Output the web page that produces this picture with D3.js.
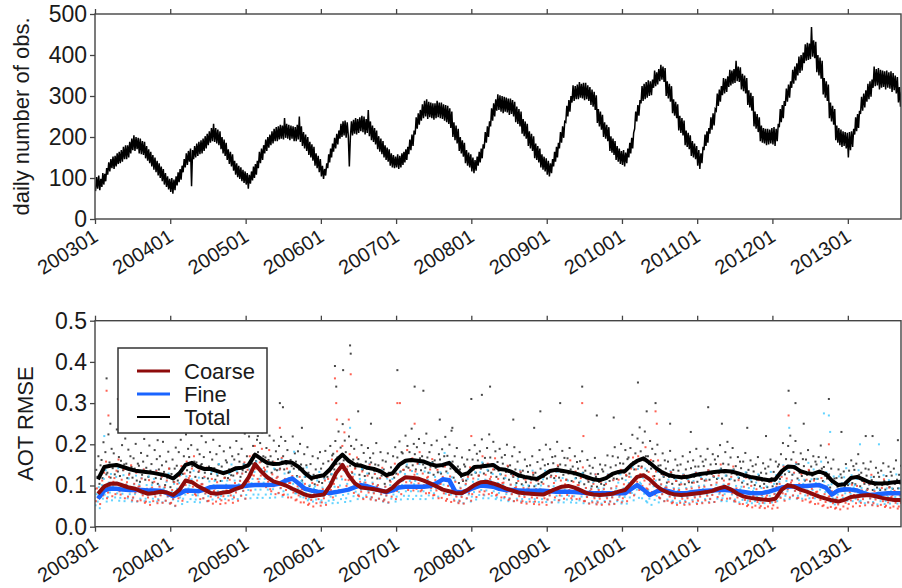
<!DOCTYPE html>
<html><head><meta charset="utf-8">
<script src="https://cdn.jsdelivr.net/npm/d3@7"></script>
<style>body{margin:0;background:#fff}svg{display:block}</style>
</head><body><svg id="c" width="902" height="588"></svg>
<script>
// ---------- DATA ----------
const yearTickLabels = ["200301","200401","200501","200601","200701","200801","200901","201001","201101","201201","201301"];
const obsTicks = [0,100,200,300,400,500];
const rmseTicks = [0,0.1,0.2,0.3,0.4,0.5];
const seriesNames = ["Coarse","Fine","Total"];

// daily number of obs: 6 readings per month (low/high swings of the noisy band), Jan 2003 - Sep 2013
const dailyObs = [
68,102,74,106,70,98, 78,112,84,110,92,124, 108,138,116,146,124,152, 122,154,128,160,134,164, 136,168,140,176,146,180, 146,180,150,188,160,196, 168,204,166,200,170,198, 160,196,158,190,156,188, 148,178,142,170,136,164, 128,156,120,150,114,142, 106,136,100,128,92,122, 84,112,78,104,72,98,
66,100,62,96,70,104, 82,114,90,122,96,130, 114,146,126,160,132,166, 140,172,80,168,146,178, 150,184,154,188,158,192, 160,196,166,202,172,208, 180,214,186,222,190,232, 188,222,184,218,180,214, 170,200,160,194,154,186, 144,170,134,164,128,158, 118,142,108,136,102,130, 98,126,92,120,88,116,
84,112,74,108,86,116, 94,128,100,134,108,142, 124,164,136,172,144,180, 160,194,166,200,174,206, 180,214,184,220,190,224, 190,226,194,230,196,228, 194,246,198,232,196,230, 192,228,196,226,190,224, 190,230,194,250,188,226, 178,212,172,206,166,200, 156,188,150,182,142,176, 130,160,124,154,114,146,
104,130,98,122,106,136, 124,158,138,172,150,184, 164,198,172,208,182,216, 196,232,200,238,204,240, 198,236,204,128,200,238, 204,242,208,246,206,244, 210,248,214,252,212,250, 206,244,210,266,202,238, 192,228,188,222,182,216, 170,202,164,196,158,190, 150,180,144,174,140,170, 130,160,126,156,124,152,
126,158,122,154,126,160, 132,164,138,170,144,176, 158,194,168,206,178,216, 206,248,220,258,230,266, 240,280,246,288,250,292, 244,286,248,284,246,282, 242,282,246,288,248,284, 246,284,244,280,240,278, 236,276,232,270,222,262, 200,236,192,228,184,220, 166,200,160,192,152,186, 136,168,130,162,126,158,
116,150,112,144,118,152, 130,164,138,172,148,182, 172,212,186,226,200,238, 226,270,240,282,250,292, 264,304,266,302,262,300, 258,298,262,296,260,294, 254,294,256,290,250,286, 236,274,232,268,226,262, 208,244,202,238,196,232, 178,214,172,208,166,202, 148,184,144,178,138,172, 126,158,120,152,116,148,
108,142,104,136,112,146, 128,164,140,176,150,186, 172,212,186,226,198,238, 236,276,250,290,262,300, 284,326,288,324,292,328, 292,334,296,330,294,332, 290,332,292,326,288,322, 278,316,274,310,266,302, 234,268,226,262,218,254, 200,236,196,230,190,224, 166,202,162,196,156,190, 144,178,140,172,134,166,
132,168,128,162,136,172, 150,186,160,198,172,210, 220,262,238,278,252,290, 282,324,288,330,292,334, 296,338,300,336,302,340, 320,362,324,358,328,366, 336,376,340,372,334,368, 300,336,294,330,286,324, 258,292,252,286,246,280, 216,252,210,246,204,240, 180,216,176,210,170,204, 154,190,150,184,146,178,
130,168,122,160,136,176, 168,206,178,214,186,222, 208,248,218,258,228,268, 264,306,276,316,286,324, 302,344,306,342,310,348, 322,364,326,362,330,366, 332,386,336,372,334,370, 316,354,312,350,306,344, 278,314,272,308,264,300, 226,262,220,256,212,248, 190,228,186,222,184,220, 180,220,182,218,184,222,
182,224,178,220,190,232, 224,268,236,278,246,288, 276,318,286,328,296,336, 320,364,330,372,338,380, 350,396,356,400,362,406, 380,426,386,430,388,428, 390,468,396,436,392,432, 358,400,350,394,342,386, 304,344,296,336,288,328, 246,284,238,276,230,268, 192,228,186,222,180,218, 176,214,178,212,172,210,
150,212,168,214,176,220, 206,248,214,256,222,264, 256,298,264,306,272,314, 286,330,292,336,298,340, 320,372,324,366,326,368, 316,364,320,362,322,360, 316,362,320,358,318,360, 310,356,314,350,306,346, 284,322,274,310,268,300
];

// smoothed AOT RMSE (x1000), one per month
const coarseSmooth = [
80,98,104,105,100,95,92,85,80,82,85,83,
77,90,112,108,98,90,82,80,83,85,92,97,
120,152,135,120,110,105,100,92,85,78,74,76,
78,100,130,150,125,105,95,93,91,88,85,95,
110,120,119,117,112,105,98,90,86,82,81,90,
101,108,109,105,100,93,88,83,81,80,79,78,
85,92,97,99,95,88,81,78,77,78,80,85,
89,105,121,125,115,100,89,82,78,77,78,80,
82,84,87,93,97,90,80,73,70,68,66,65,
68,90,101,97,90,85,79,73,68,64,61,65,
72,74,76,77,74,70,67,65,65];
const fineSmooth = [
68,88,93,92,90,89,89,89,88,88,87,82,
74,80,88,87,86,90,96,97,97,97,97,98,
100,101,101,101,102,105,112,117,105,92,88,85,
83,82,84,87,90,96,101,98,93,88,84,88,
95,97,97,97,97,99,105,115,113,85,83,88,
95,100,99,97,92,89,89,88,87,87,87,87,
86,85,85,85,84,83,82,81,81,81,81,81,
81,92,101,90,77,85,89,86,82,81,82,84,
86,87,88,89,89,88,86,84,82,81,82,85,
90,95,97,98,98,99,100,101,95,78,88,91,
90,88,82,77,78,80,81,81,81];
const totalSmooth = [
115,145,148,150,145,140,136,134,132,130,127,124,
117,130,150,155,145,140,140,135,130,135,142,143,
150,175,165,155,152,153,157,155,145,130,118,122,
125,140,160,175,160,150,148,143,140,135,125,130,
150,160,162,160,158,152,148,150,155,140,125,130,
145,146,148,150,140,138,133,125,121,118,116,125,
135,138,136,133,130,125,120,115,113,118,128,133,
135,150,160,166,155,142,132,125,122,120,121,125,
128,130,132,134,135,134,130,125,121,118,115,113,
115,135,146,145,135,130,128,134,128,112,101,103,
118,121,115,108,105,105,106,108,109];

// daily RMSE scatter (x1000), 6 readings per month
const totalDots = [
92,138,121,171,104,149, 162,118,205,139,181,127, 131,224,156,119,189,142, 178,127,151,236,134,169, 123,160,198,137,151,214, 153,118,187,129,171,145, 119,166,141,201,112,153, 148,109,179,126,158,213, 114,143,172,121,197,136, 152,107,131,186,118,164, 104,139,171,116,149,206, 133,101,158,119,182,141,
96,128,163,109,141,192, 148,112,181,126,211,139, 128,171,146,224,137,189, 169,132,198,147,241,158, 121,156,187,133,176,149, 152,118,169,131,205,143, 117,146,181,128,163,211, 142,114,176,124,151,196, 111,146,128,183,119,161, 156,118,139,192,125,171, 124,163,139,208,131,176, 158,121,189,137,152,226,
133,171,146,219,127,162, 153,196,168,247,159,211, 181,142,203,158,229,171, 134,168,191,146,162,221, 171,131,158,209,139,183, 137,164,196,141,218,158, 171,139,208,152,186,131, 133,162,147,219,141,178, 158,123,183,139,201,151, 112,141,176,121,149,193, 131,99,152,113,171,126, 103,139,118,166,109,181,
141,106,153,119,184,132, 121,159,138,196,127,173, 177,139,208,152,168,231, 153,192,171,249,161,209, 181,139,162,219,148,196, 131,163,189,142,211,154, 164,126,151,198,138,179, 123,158,141,191,129,167, 156,119,178,136,151,203, 117,149,132,181,124,161, 139,104,158,121,178,131, 112,144,127,171,119,193,
129,168,146,207,134,181, 178,138,159,221,146,196, 143,181,159,238,149,201, 176,139,193,154,213,166, 137,171,151,203,143,226, 168,131,181,146,198,157, 126,161,143,209,132,176, 163,129,188,146,171,218, 134,172,151,199,141,233, 158,119,171,134,191,146, 106,139,121,168,111,151, 146,112,163,126,186,138,
126,163,139,198,131,177, 161,124,183,141,212,153, 129,167,146,191,136,224, 168,131,152,206,139,183, 121,157,136,189,127,168, 153,117,174,133,199,146, 114,149,128,171,121,193, 139,106,158,121,181,131, 103,136,117,163,108,147, 133,99,149,114,171,126, 98,131,112,157,104,186, 141,108,163,121,149,199,
117,152,131,188,124,169, 154,118,171,134,206,146, 119,151,133,184,126,167, 149,114,166,129,191,139, 111,146,127,171,118,157, 141,107,159,122,183,131, 103,136,117,162,109,148, 129,98,143,112,167,121, 97,128,109,151,104,139, 134,101,149,116,173,124, 111,144,124,171,117,193, 149,116,168,129,154,201,
117,153,131,186,124,164, 168,129,191,146,223,157, 139,178,156,214,147,241, 183,146,204,161,231,171, 136,171,152,208,141,189, 159,123,176,138,199,148, 114,149,128,178,121,161, 141,107,158,121,184,131, 104,138,118,163,111,149, 136,102,151,117,171,126, 103,139,117,158,108,181, 142,107,161,121,146,189,
109,146,124,171,116,158, 147,112,163,126,189,136, 114,151,128,176,121,163, 152,116,171,131,198,141, 117,153,132,181,124,206, 151,115,168,129,191,139, 112,147,126,169,118,158, 142,107,158,121,179,131, 103,138,117,161,109,147, 134,101,151,114,169,124, 98,131,112,154,104,141, 129,96,146,109,163,118,
98,133,111,158,104,146, 151,116,176,131,203,141, 127,164,142,196,133,221, 163,126,181,141,208,152, 117,152,131,178,123,164, 147,112,163,126,186,136, 110,146,124,171,116,158, 151,116,169,131,197,141, 111,145,124,168,117,156, 127,95,141,108,163,117, 86,118,97,139,91,127, 119,87,134,99,152,108,
101,136,114,161,106,147, 138,103,153,117,176,126, 98,131,111,154,104,141, 124,92,139,104,158,113, 89,121,101,143,95,131, 121,89,136,101,154,111, 90,123,102,146,96,133, 124,92,141,104,161,114, 93,126,105,148,98,136
];
const coarseDots = [
62,93,71,118,55,84, 112,76,131,88,158,69, 83,121,96,147,74,109, 118,79,136,94,163,86, 78,114,91,139,69,102, 108,73,126,86,149,64, 71,104,83,131,62,97, 98,64,117,76,139,58, 61,92,71,113,53,84, 95,62,109,73,136,57, 64,97,76,121,58,88, 96,63,112,74,141,56,
58,89,67,108,51,81, 104,69,123,81,147,63, 89,129,101,158,82,118, 123,85,141,97,171,79, 76,112,88,136,67,103, 103,69,121,81,143,62, 63,96,73,116,56,87, 93,61,108,71,132,55, 64,96,74,118,57,88, 98,64,114,76,137,58, 71,106,83,129,63,97, 111,75,129,87,156,68,
96,138,109,171,88,126, 173,124,196,141,231,116, 109,156,124,189,101,143, 138,96,159,109,186,91, 86,127,98,156,79,118, 121,82,139,94,167,77, 78,116,89,141,71,106, 106,71,123,83,149,64, 66,98,76,121,59,91, 91,59,104,69,128,53, 56,86,65,106,49,79, 88,57,101,67,124,51,
59,91,69,112,53,84, 116,78,134,89,163,71, 104,151,118,183,96,138, 171,122,196,138,229,114, 99,146,113,176,92,133, 121,82,141,94,168,76, 74,109,85,134,67,101, 107,72,124,83,151,66, 71,104,81,128,64,97, 101,68,118,79,143,62, 66,97,76,121,59,91, 109,73,127,86,153,67,
87,127,99,154,79,116, 138,95,157,108,186,89, 94,137,107,166,88,126, 134,92,153,105,181,86, 89,129,101,157,81,119, 121,82,139,94,164,76, 77,113,88,138,69,104, 104,70,121,81,146,63, 67,99,77,122,60,92, 95,63,109,73,134,57, 62,93,72,114,56,86, 104,69,121,81,144,63,
79,117,91,142,72,107, 124,85,143,97,171,78, 86,126,98,153,79,116, 121,82,139,94,166,76, 78,116,89,141,71,106, 107,72,124,84,148,65, 68,102,79,124,62,94, 96,64,111,74,134,58, 62,94,72,114,56,86, 93,61,107,71,131,55, 61,91,70,112,54,84, 90,59,104,69,128,53,
66,98,76,121,59,91, 106,71,123,82,149,64, 76,112,87,137,68,103, 114,77,132,89,161,69, 74,109,85,134,67,101, 101,68,118,79,144,62, 62,94,72,114,56,86, 91,59,104,69,127,54, 59,89,68,109,53,82, 91,60,104,69,126,54, 61,93,71,113,55,85, 98,65,114,76,138,59,
69,103,79,126,62,95, 121,82,141,94,168,76, 97,139,109,171,89,128, 143,99,163,112,193,93, 91,133,103,162,84,122, 116,78,134,89,161,71, 69,103,79,126,62,95, 95,63,109,73,133,57, 59,91,69,111,53,83, 89,58,103,68,125,53, 60,91,69,111,54,83, 93,61,107,71,131,55,
63,95,73,116,57,87, 97,64,112,75,137,58, 67,101,77,123,60,93, 107,72,124,83,151,65, 76,112,87,137,68,103, 104,69,121,81,146,63, 61,93,71,113,55,85, 85,55,97,65,119,50, 53,82,62,99,47,75, 79,51,91,60,113,46, 50,77,58,94,45,71, 76,49,87,58,108,44,
52,79,60,97,46,73, 104,70,121,81,146,63, 79,117,91,143,71,107, 112,76,131,87,156,69, 70,104,81,128,63,96, 99,66,114,76,138,59, 61,92,70,112,55,84, 85,56,98,65,118,50, 52,79,60,97,46,73, 74,48,86,57,106,44, 46,71,54,87,42,66, 76,49,87,58,108,44,
55,84,64,102,49,77, 86,57,99,66,121,50, 58,88,67,108,52,81, 89,59,103,69,126,52, 57,86,66,105,50,79, 81,53,94,62,115,48, 51,78,59,95,46,72, 76,49,87,58,108,44, 49,76,58,93,44,70
];
const fineDots = [
52,79,61,96,45,72, 101,68,116,78,137,61, 72,107,83,128,64,98, 105,71,121,81,142,63, 70,104,80,125,62,95, 102,69,117,79,139,61, 69,103,79,124,61,94, 102,68,118,79,138,62, 68,101,78,122,60,93, 101,68,116,78,137,61, 67,100,77,121,59,92, 94,63,109,73,129,57,
57,86,66,104,50,79, 92,62,106,71,126,55, 68,101,78,122,60,93, 100,67,115,77,136,60, 66,99,76,119,59,91, 104,69,119,80,141,62, 74,110,85,133,66,101, 111,75,128,86,152,67, 75,111,86,134,67,102, 112,75,128,86,151,67, 75,112,86,135,67,103, 112,76,129,87,153,68,
77,115,89,139,69,106, 116,78,133,90,158,70, 78,116,90,140,70,107, 116,78,134,90,157,70, 79,117,91,141,71,108, 121,81,138,93,164,73, 86,129,99,155,78,118, 134,90,154,104,182,81, 81,121,93,146,73,111, 106,71,121,82,144,64, 68,101,78,122,61,93, 98,66,112,75,133,59,
64,95,74,115,58,88, 94,63,108,73,128,57, 65,97,75,117,58,89, 100,67,115,77,136,60, 69,104,80,125,62,95, 110,74,127,85,150,67, 78,116,90,140,70,107, 113,76,129,87,153,68, 72,107,83,129,64,98, 101,68,116,78,137,61, 65,97,75,117,58,89, 101,68,116,78,137,61,
73,109,84,132,66,101, 112,75,128,86,151,67, 75,111,86,135,67,103, 111,75,128,86,152,67, 75,112,86,134,67,102, 114,76,131,88,154,69, 81,121,93,146,73,111, 132,89,152,102,179,80, 87,130,100,157,78,120, 98,66,112,75,133,59, 64,95,74,115,57,88, 101,68,116,78,137,61,
73,109,84,132,66,101, 115,77,132,89,156,69, 76,114,88,138,69,105, 112,75,128,86,151,67, 71,106,82,128,64,98, 102,69,118,79,139,62, 69,102,79,124,62,94, 101,68,116,78,137,61, 67,100,77,121,60,92, 100,67,115,77,136,60, 67,100,77,121,60,92, 100,67,115,77,136,60,
66,99,76,120,59,91, 98,65,112,75,133,59, 65,98,75,118,59,90, 98,66,112,75,133,59, 65,97,74,117,58,89, 95,64,110,73,130,57, 63,94,73,114,57,87, 93,62,107,72,127,56, 62,93,72,113,56,86, 93,62,107,72,127,56, 62,93,72,113,56,86, 93,62,107,72,127,56,
62,93,72,113,56,86, 106,71,121,82,144,64, 78,116,90,140,70,107, 104,69,119,80,141,62, 59,89,68,107,53,82, 98,65,112,75,133,59, 69,102,79,124,62,94, 99,66,114,76,135,60, 63,94,73,114,57,87, 93,62,107,72,127,56, 63,94,73,114,57,87, 97,65,111,74,132,58,
66,99,76,120,59,91, 100,67,115,77,136,60, 68,101,78,122,60,93, 102,68,118,79,139,62, 69,102,79,124,62,94, 101,68,116,78,137,61, 66,99,76,120,59,91, 97,65,111,74,132,58, 63,94,73,114,57,87, 93,62,107,72,127,56, 63,94,73,114,57,87, 98,65,112,75,133,59,
69,104,80,125,62,95, 109,73,125,84,149,66, 75,111,86,135,67,103, 113,75,129,87,153,68, 75,113,87,136,68,104, 114,76,131,88,155,69, 77,115,89,139,69,106, 116,78,134,90,158,70, 73,109,84,132,66,101, 90,60,103,69,122,54, 68,101,78,122,61,93, 105,70,120,81,142,63,
69,104,80,125,62,95, 101,68,116,78,137,61, 63,94,73,114,57,87, 89,59,102,68,120,53, 60,90,69,108,54,83, 92,62,106,71,125,55, 62,93,72,113,56,86, 93,62,107,72,127,56, 62,93,72,113,56,86
];
// isolated high RMSE days: [month index since Jan 2003 (fractional), RMSE]
const totalOutliers = [[1.9,0.36],[3.7,0.31],[2.5,0.25],[6,0.23],[10,0.21],[14,0.24],[17,0.22],[22,0.25],[26,0.22],[29.5,0.30],[30,0.29],[33,0.24],[38.3,0.39],[38.5,0.34],[39.6,0.38],[40.7,0.44],[40.8,0.42],[42,0.28],[44,0.25],[48.2,0.38],[51,0.34],[52.4,0.33],[55,0.26],[57,0.24],[60,0.31],[61.7,0.32],[63,0.34],[66.7,0.26],[70,0.24],[71,0.28],[74.2,0.30],[77.7,0.34],[80,0.27],[82.7,0.265],[86.6,0.35],[88,0.28],[89.4,0.30],[91.7,0.25],[95,0.23],[97.8,0.29],[100,0.25],[104,0.24],[107,0.22],[110.6,0.33],[111.7,0.30],[113,0.25],[117,0.31],[119,0.23],[122.9,0.22],[124,0.22],[128,0.21]];
const coarseOutliers = [[1.9,0.33],[2.2,0.27],[29.5,0.24],[38.3,0.36],[38.5,0.30],[38.6,0.26],[40.8,0.37],[40.5,0.26],[48.2,0.30],[48.6,0.30],[51,0.25],[60,0.22],[77.7,0.30],[77.9,0.22],[89.4,0.28],[89.6,0.25],[110.6,0.27],[117,0.20]];
const fineOutliers = [[1.5,0.22],[40.7,0.24],[110.7,0.24],[116.2,0.275],[117,0.27],[117.2,0.23],[122,0.20],[125,0.20]];

// ---------- CHECKS ----------
[["dailyObs",dailyObs,774],["totalDots",totalDots,774],["coarseDots",coarseDots,774],["fineDots",fineDots,774],["coarseSmooth",coarseSmooth,129],["fineSmooth",fineSmooth,129],["totalSmooth",totalSmooth,129]].forEach(([n,a,l])=>{ if(a.length!==l) throw new Error(n+" length "+a.length); });

// ---------- DRAW ----------
const svg = d3.select("#c");
const FONT = "'Liberation Sans', Arial, Helvetica, sans-serif";
const DAY = 864e5;
const L = 95, R = 901;
const x = d3.scaleUtc().domain([Date.UTC(2003,0,1), Date.UTC(2013,8,16)]).range([L, R]);
const yTop = d3.scaleLinear().domain([0,500]).range([219,14]);
const yBot = d3.scaleLinear().domain([0,0.5]).range([526.7,320.7]);
const ms = m => Date.UTC(2003, m, 1);
const mdays = m => (Date.UTC(2003, m+1, 1) - Date.UTC(2003, m, 1)) / DAY;
const slot = (i, n, shift) => { const m = Math.floor(i/n), k = i%n; return ms(m) + ((k+0.5)*mdays(m)/n + shift) * DAY; };
const fracMonth = f => { const m = Math.floor(f); return ms(m) + (f-m)*mdays(m)*DAY; };
const yearDates = yearTickLabels.map((s,i)=>Date.UTC(2003+i,0,1));

const defs = svg.append("defs");
defs.append("clipPath").attr("id","clipTop").append("rect").attr("x",L).attr("y",14).attr("width",R-L).attr("height",205);
defs.append("clipPath").attr("id","clipBot").append("rect").attr("x",L).attr("y",320.7).attr("width",R-L).attr("height",206);

function frame(y, yTicks, fmt, yTitle, titleX) {
  const [y0, y1] = y.range();
  const g = svg.append("g");
  const ax = g.append("g").attr("transform",`translate(0,${y0})`)
    .call(d3.axisBottom(x).tickValues(yearDates).tickSize(5).tickFormat((d,i)=>yearTickLabels[i]));
  ax.selectAll("text").attr("x",0).attr("y",0).attr("dy",0)
    .attr("text-anchor","end").attr("transform","translate(4,21) rotate(-32)")
    .style("font-size","20px");
  g.append("g").attr("transform",`translate(0,${y1})`)
    .call(d3.axisTop(x).tickValues(yearDates).tickSize(5).tickFormat(""));
  g.append("g").attr("transform",`translate(${L},0)`)
    .call(d3.axisLeft(y).tickValues(yTicks).tickSize(5).tickPadding(3).tickFormat(fmt))
    .selectAll("text").style("font-size","23px");
  g.selectAll(".domain").remove();
  g.selectAll(".tick line").attr("stroke","#444").attr("stroke-width",1.3);
  g.selectAll("text").attr("fill","#1a1a1a").style("font-family",FONT);
  g.append("rect").attr("x",L).attr("y",y1).attr("width",R-L).attr("height",y0-y1)
    .attr("fill","none").attr("stroke","#444").attr("stroke-width",1.4);
  svg.append("text").attr("transform",`translate(${titleX},${(y0+y1)/2}) rotate(-90)`)
    .attr("text-anchor","middle").style("font-family",FONT).style("font-size","22px")
    .attr("fill","#1a1a1a").text(yTitle);
}

// top panel
svg.append("path").datum(dailyObs).attr("clip-path","url(#clipTop)")
  .attr("fill","none").attr("stroke","#000").attr("stroke-width",1.5).attr("stroke-linejoin","miter")
  .attr("d", d3.line().x((d,i)=>x(slot(i,6,0))).y(d=>yTop(d)));
frame(yTop, obsTicks, d3.format("d"), "daily number of obs.", 29);

// bottom panel: dots
const dotG = svg.append("g").attr("clip-path","url(#clipBot)");
function dots(arr, shift, color, outl) {
  const pts = arr.map((v,i)=>[slot(i,6,shift), v/1000]).concat(outl.map(o=>[fracMonth(o[0]), o[1]]));
  dotG.append("g").selectAll("rect").data(pts).join("rect")
    .attr("x",d=>x(d[0])-1).attr("y",d=>yBot(d[1])-1).attr("width",2).attr("height",2)
    .attr("fill",color).attr("opacity",0.8);
}
dots(totalDots, -1.6, "#1a1a1a", totalOutliers);
dots(fineDots, 0.1, "#3cc8ff", fineOutliers);
dots(coarseDots, 1.7, "#ff3a28", coarseOutliers);

const smoothLine = d3.line().x((d,i)=>x(ms(i)+14.5*DAY)).y(d=>yBot(d/1000));
const lineG = svg.append("g").attr("clip-path","url(#clipBot)").attr("fill","none").attr("stroke-linejoin","round");
lineG.append("path").datum(fineSmooth).attr("stroke","#1a64ff").attr("stroke-width",4.5).attr("d",smoothLine);
lineG.append("path").datum(coarseSmooth).attr("stroke","#8e0b0b").attr("stroke-width",4).attr("d",smoothLine);
lineG.append("path").datum(totalSmooth).attr("stroke","#000").attr("stroke-width",4).attr("d",smoothLine);
frame(yBot, rmseTicks, d3.format(".1f"), "AOT RMSE", 33);

// legend
const lg = svg.append("g");
lg.append("rect").attr("x",118).attr("y",348).attr("width",149).attr("height",85)
  .attr("fill","#fff").attr("stroke","#333").attr("stroke-width",1.5);
const legColors = ["#8e0b0b","#1a64ff","#000"];
const legWidths = [3,3,2];
seriesNames.forEach((n,i)=>{
  const yy = 371 + i*23;
  lg.append("line").attr("x1",137).attr("x2",170).attr("y1",yy).attr("y2",yy)
    .attr("stroke",legColors[i]).attr("stroke-width",legWidths[i]);
  lg.append("text").attr("x",184).attr("y",yy+8).style("font-family",FONT).style("font-size","22px")
    .attr("fill","#1a1a1a").text(n);
});
</script>
</body></html>
